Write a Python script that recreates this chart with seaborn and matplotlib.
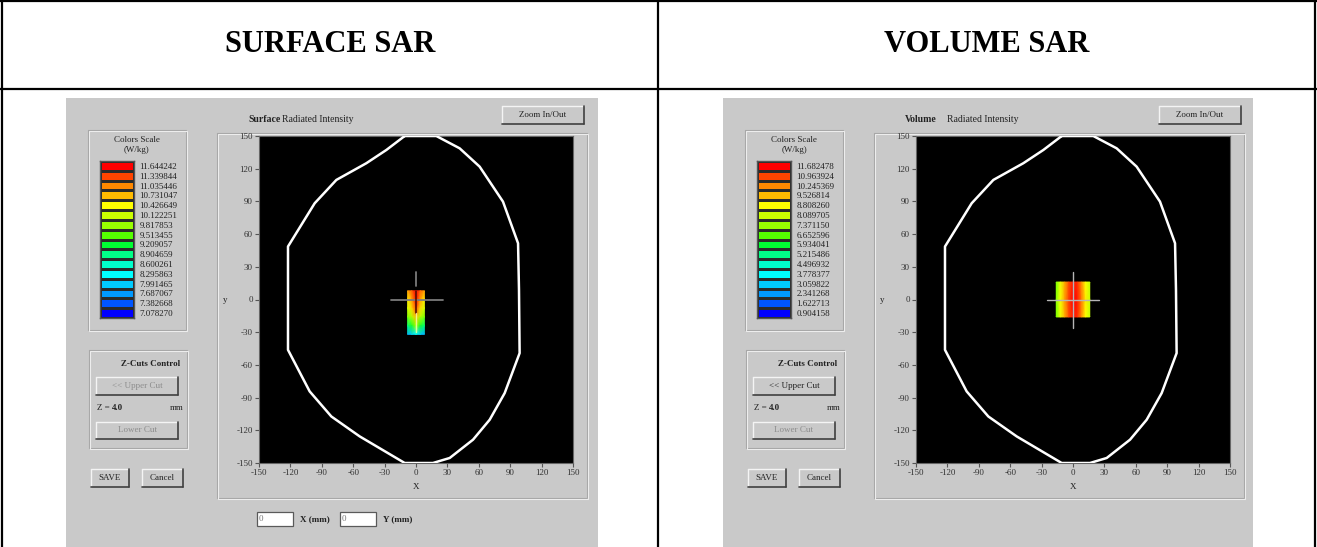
import numpy as np
import matplotlib
matplotlib.use("Agg")
import matplotlib.pyplot as plt
import seaborn as sns
from matplotlib.colors import ListedColormap, LinearSegmentedColormap
from matplotlib.patches import Rectangle

# ---- data ----
panel_titles = ["SURFACE SAR", "VOLUME SAR"]
panel_modes = ["Surface", "Volume"]

scale_colors = ["#ff0000", "#ff4400", "#ff8800", "#ffbb00", "#ffff00", "#ccff00",
                "#99ff00", "#55ff00", "#00ff33", "#00ff88", "#00ffcc", "#00ffff",
                "#00ccff", "#0099ff", "#0055ff", "#0000ff"]

surface_scale = [11.644242, 11.339844, 11.035446, 10.731047, 10.426649, 10.122251,
                 9.817853, 9.513455, 9.209057, 8.904659, 8.600261, 8.295863,
                 7.991465, 7.687067, 7.382668, 7.078270]
volume_scale = [11.682478, 10.963924, 10.245369, 9.526814, 8.808260, 8.089705,
                7.371150, 6.652596, 5.934041, 5.215486, 4.496932, 3.778377,
                3.059822, 2.341268, 1.622713, 0.904158]

# head outline (mm)
outline_x = [-10.8, -28.3, -47.5, -76.1, -96.8, -122.3, -122.3, -101.6, -80.9, -53.8,
             -10.8, 16.2, 32.2, 54.5, 70.4, 84.7, 99.0, 98.4, 97.5, 83.1, 60.8, 41.7, 19.4, -10.8]
outline_y = [150, 137.2, 125, 109.7, 88.3, 48.6, -46.2, -84.3, -107.3, -125.6,
             -150, -150, -145.4, -128.6, -110.3, -85.9, -49.2, 8.8, 51.6, 89.8, 121.9, 138.7, 150, 150]

# SAR spot, surface
surf_x = [-8, -4, 0, 4, 8]
surf_y = [8, 0, -8, -16, -24, -32]
surf_sar = [[10.9, 11.2, 11.64, 11.2, 10.9],
            [10.5, 10.9, 11.6, 10.9, 10.5],
            [10.2, 10.6, 11.3, 10.6, 10.2],
            [9.7, 10.0, 10.7, 10.0, 9.7],
            [9.0, 9.3, 9.9, 9.3, 9.0],
            [7.8, 8.0, 8.3, 8.0, 7.8]]

# SAR spot, volume
vol_x = [-16, -12, -8, -4, 0, 4, 8, 12, 16]
vol_y = [16, 0, -16]
vol_sar = [[7.0, 8.5, 9.7, 10.8, 11.4, 11.2, 10.2, 8.8, 7.9],
           [7.2, 8.7, 9.9, 11.0, 11.68, 11.4, 10.4, 9.0, 8.1],
           [7.0, 8.5, 9.7, 10.8, 11.4, 11.2, 10.2, 8.8, 7.9]]

tick_values = [-150, -120, -90, -60, -30, 0, 30, 60, 90, 120, 150]

# ---- figure ----
sns.set_style("white")
plt.rcParams['font.family'] = ['Liberation Serif', 'DejaVu Serif']
plt.rcParams['axes.unicode_minus'] = False
plt.rcParams['text.color'] = 'black'

W, H = 1317, 547
fig = plt.figure(figsize=(W / 100, H / 100), dpi=100)
frame = fig.add_axes([0, 0, 1, 1])
frame.set_xlim(0, W)
frame.set_ylim(H, 0)
frame.axis('off')


def px(x0, y0, x1, y1):
    return [x0 / W, 1 - y1 / H, (x1 - x0) / W, (y1 - y0) / H]


gray = "#c9c9c9"
txt = "#222222"
fs = 6.5


def etched(x0, y0, x1, y1):
    frame.add_patch(Rectangle((x0, y0), x1 - x0, y1 - y0, fill=False, ec="#a5a5a5", lw=0.8))
    frame.add_patch(Rectangle((x0 + 1, y0 + 1), x1 - x0, y1 - y0, fill=False, ec="#ededed", lw=0.8))


def button(x0, y0, x1, y1, label, active=True):
    frame.add_patch(Rectangle((x0, y0), x1 - x0, y1 - y0, fc=gray, ec="none"))
    frame.plot([x0, x1], [y0, y0], color="#f4f4f4", lw=1)
    frame.plot([x0, x0], [y0, y1], color="#f4f4f4", lw=1)
    frame.plot([x0, x1], [y1, y1], color="#404040", lw=1.2)
    frame.plot([x1, x1], [y0, y1], color="#404040", lw=1.2)
    frame.text((x0 + x1) / 2, (y0 + y1) / 2, label, ha='center', va='center', fontsize=fs,
               color=txt if active else "#8c8c8c")


cmap_blob = LinearSegmentedColormap.from_list("sar", scale_colors[::-1])

for i, (title, mode) in enumerate(zip(panel_titles, panel_modes)):
    dx = 657 * i
    scale = surface_scale if i == 0 else volume_scale

    # header
    frame.text(330 + dx, 45, title, ha='center', va='center', fontsize=22, fontweight='bold',
               color='black', family='Liberation Serif')

    # gray screenshot area
    frame.add_patch(Rectangle((66 + dx, 98), 532 - 2 * i, H - 98, fc=gray, ec="none"))

    # colour scale box
    etched(88 + dx, 130, 186 + dx, 330)
    frame.text(137 + dx, 140, "Colors Scale", ha='center', va='center', fontsize=fs, color=txt)
    frame.text(137 + dx, 150, "(W/kg)", ha='center', va='center', fontsize=fs, color=txt)
    sax = fig.add_axes(px(100 + dx, 161, 134 + dx, 318))
    step = (scale[0] - scale[-1]) / (len(scale) - 1)
    sns.heatmap(np.array(scale)[:, None], ax=sax, cmap=ListedColormap(scale_colors[::-1]),
                vmin=scale[-1] - step / 2, vmax=scale[0] + step / 2, cbar=False,
                linewidths=0.9, linecolor="#2a2a2a", xticklabels=False,
                yticklabels=[f"{v:.6f}" for v in scale])
    sax.yaxis.tick_right()
    sax.tick_params(axis='y', length=0, pad=4, labelsize=fs, labelcolor=txt, rotation=0)
    for s in sax.spines.values():
        s.set_visible(True)
        s.set_color("#555555")
        s.set_linewidth(1)

    # Z-cuts control
    etched(89 + dx, 350, 187 + dx, 448)
    frame.text(180 + dx, 364, "Z-Cuts Control", ha='right', va='center', fontsize=fs,
               color=txt, fontweight='bold')
    button(96 + dx, 377, 178 + dx, 395, "<< Upper Cut", active=(i == 1))
    frame.text(97 + dx, 408, "Z = ", ha='left', va='center', fontsize=fs, color=txt)
    frame.text(112 + dx, 408, "4.0", ha='left', va='center', fontsize=fs, color=txt,
               fontweight='bold')
    frame.text(170 + dx, 408, "mm", ha='left', va='center', fontsize=fs, color=txt)
    button(96 + dx, 422, 178 + dx, 439, "Lower Cut", active=False)
    button(91 + dx, 469, 129 + dx, 487, "SAVE")
    button(142 + dx, 469, 183 + dx, 487, "Cancel")

    # plot panel
    etched(217 + dx, 133, 587 + dx, 498)
    frame.text(248 + dx, 119, mode, ha='left', va='center', fontsize=fs + 0.5, color=txt,
               fontweight='bold')
    frame.text(248 + dx + (34 if i == 0 else 42), 119, "Radiated Intensity", ha='left',
               va='center', fontsize=fs + 0.5, color=txt)
    button(502 + dx, 106, 584 + dx, 124, "Zoom In/Out")
    frame.text(225 + dx, 300, "y", ha='center', va='center', fontsize=fs, color=txt)
    frame.text(416 + dx, 487, "X", ha='center', va='center', fontsize=fs, color=txt)

    ax = fig.add_axes(px(259 + dx, 136, 573 + dx, 463))
    ax.set_facecolor("black")
    if i == 0:
        ax.pcolormesh(surf_x, surf_y, np.array(surf_sar), shading='gouraud', cmap=cmap_blob,
                      vmin=scale[-1], vmax=scale[0], zorder=2)
        ax.plot([-24, 26], [0, 0], color="#7a7a7a", lw=1.3, zorder=3)
        ax.plot([0, 0], [12, 25], color="#7a7a7a", lw=1.3, zorder=3)
        ax.plot([0, 0], [8, -12], color="#5a1000", lw=1.2, zorder=3)
        ax.plot([0, 0], [-12, -30], color="#f4ffb0", lw=1, alpha=0.8, zorder=3)
    else:
        ax.pcolormesh(vol_x, vol_y, np.array(vol_sar), shading='gouraud', cmap=cmap_blob,
                      vmin=scale[-1], vmax=scale[0], zorder=2)
        ax.plot([-25, 25], [0, 0], color="#b5b5b5", lw=1, zorder=3)
        ax.plot([0, 0], [-26, 25], color="#b5b5b5", lw=1, zorder=3)
    sns.lineplot(x=outline_x, y=outline_y, sort=False, estimator=None, color="white",
                 lw=1.8, ax=ax, zorder=4)
    ax.set_xlim(-150, 150)
    ax.set_ylim(-150, 150)
    ax.set_xticks(tick_values)
    ax.set_yticks(tick_values)
    ax.tick_params(length=3, width=0.8, color="#555555", labelsize=fs, labelcolor="#333333",
                   pad=1.5, bottom=True, left=True)
    for s in ax.spines.values():
        s.set_color("#666666")
        s.set_linewidth(0.8)

# position boxes under the left plot
for x0, x1, lab in [(257, 293, "X (mm)"), (340, 376, "Y (mm)")]:
    frame.add_patch(Rectangle((x0, 512), x1 - x0, 14, fc="white", ec="#5a5a5a", lw=0.9))
    frame.text(x0 + 2, 519, "0", ha='left', va='center', fontsize=fs, color="#777777")
    frame.text(x1 + 7, 519, lab, ha='left', va='center', fontsize=fs, color=txt,
               fontweight='bold')

# table lines
for xs, ys in [([2, 2], [0, H]), ([1315, 1315], [0, H]), ([658, 658], [0, H]),
               ([0, W], [1, 1]), ([0, W], [89, 89])]:
    frame.plot(xs, ys, color="black", lw=1.6)

fig.savefig("out.png", dpi=100, facecolor="white")
